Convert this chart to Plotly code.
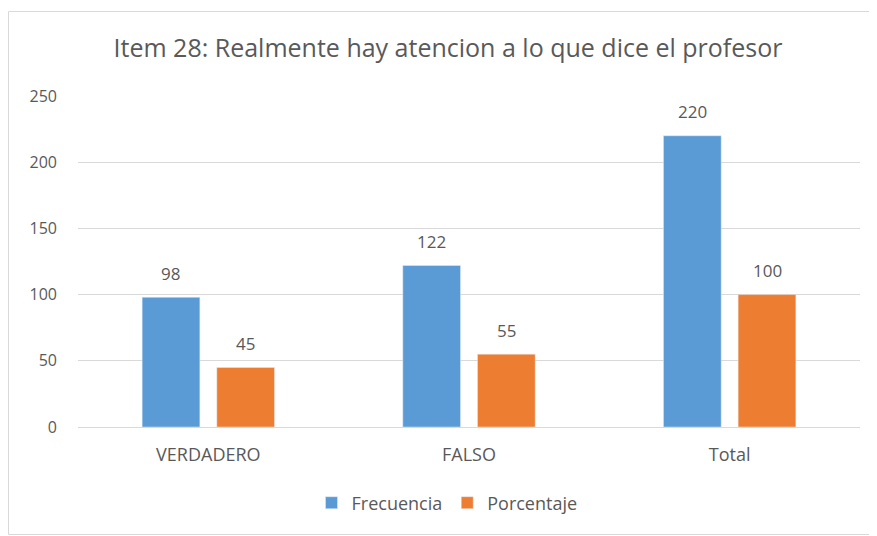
import plotly.graph_objects as go

categories = ["VERDADERO", "FALSO", "Total"]
frecuencia = [98, 122, 220]
porcentaje = [45, 55, 100]
y_ticks = [0, 50, 100, 150, 200, 250]

BLUE = "#5B9BD5"
ORANGE = "#ED7D31"
TXT = "#595959"
FONT = "Open Sans"

OFF = 8  # page body margin
W, H = 877 - OFF, 536 - OFF
# plot area in reference pixel coords: x 78..860, y 96..427
L, R, T, B = 78 - OFF, 877 - 860, 96 - OFF, 536 - 427
pw = W - L - R
ph = H - T - B

def px_x(p):
    return (p - OFF - L) / pw

def px_y(p):
    return (H - B - (p - OFF)) / ph

fig = go.Figure()
fig.add_trace(go.Bar(name="Frecuencia", x=categories, y=frecuencia, marker_color=BLUE))
fig.add_trace(go.Bar(name="Porcentaje", x=categories, y=porcentaje, marker_color=ORANGE))

slot = pw / 3 * (1 - 0.427) / 2
for vals, sh in ((frecuencia, -slot / 2), (porcentaje, slot / 2)):
    for c, v in zip(categories, vals):
        fig.add_annotation(x=c, y=v, text=str(v), showarrow=False, xshift=sh,
                           yanchor="middle", yshift=24,
                           font=dict(size=17, color=TXT, family=FONT))

fig.add_shape(type="rect", xref="paper", yref="paper",
              x0=px_x(8.5), x1=px_x(875.5), y0=px_y(534.5), y1=px_y(11.5),
              line=dict(color="#D9D9D9", width=1), fillcolor="rgba(0,0,0,0)", layer="below")

fig.update_layout(
    width=W, height=H,
    margin=dict(l=L, r=R, t=T, b=B),
    paper_bgcolor="white", plot_bgcolor="white",
    barmode="group", bargap=0.427, bargroupgap=0.227,
    font=dict(family=FONT, color=TXT, size=14),
    title=dict(text="Item 28: Realmente hay atencion a lo que dice el profesor",
               x=px_x(448), xanchor="center", xref="paper",
               y=1 - (48 - OFF) / H, yanchor="middle",
               font=dict(size=25, color=TXT, family=FONT)),
    legend=dict(orientation="h", x=px_x(447), xanchor="center", y=px_y(503), yanchor="middle",
                font=dict(size=18, color=TXT, family=FONT), itemwidth=30, traceorder="normal"),
    showlegend=True,
)
fig.update_xaxes(showline=True, linecolor="#D9D9D9", linewidth=1, ticks="",
                 tickfont=dict(size=18, color=TXT, family=FONT), ticklabelstandoff=11)
fig.update_yaxes(range=[0, 250], tickvals=y_ticks, showgrid=True, gridcolor="#D9D9D9",
                 gridwidth=1, zeroline=False, showline=False, ticks="",
                 tickfont=dict(size=16, color=TXT, family=FONT), ticklabelstandoff=20)

fig.write_html("out.html")
